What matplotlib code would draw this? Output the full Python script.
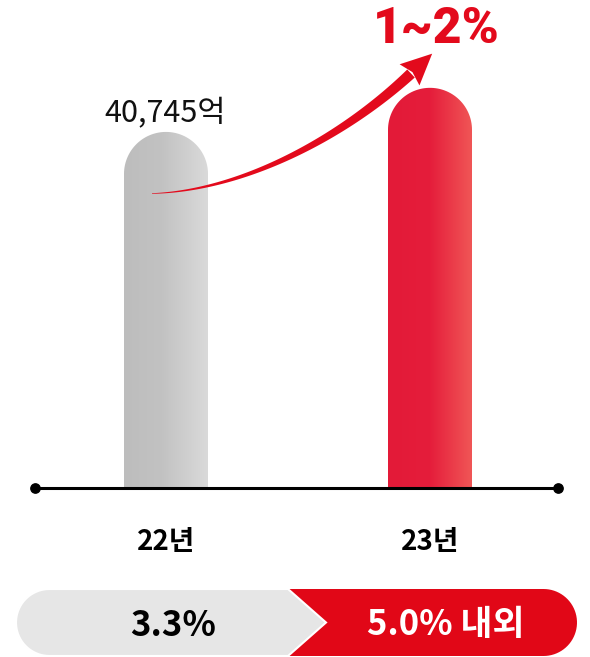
import numpy as np
import matplotlib
matplotlib.use("Agg")
from matplotlib import pyplot as plt
from matplotlib.path import Path
from matplotlib.patches import PathPatch
from matplotlib.colors import LinearSegmentedColormap

# data
years = ["22년", "23년"]
bar_heights = [100, 112.4]  # relative height as drawn (22년 = 100)
base_label = "40,745억"
growth_label = "1~2%"
rates = ["3.3%", "5.0% 내외"]

KR = "Noto Sans CJK KR"
RED = "#e30a1c"

fig = plt.figure(figsize=(5.9, 6.57), dpi=100)

# bars axes (baseline at y=487.5px)
bx = fig.add_axes([0, (657 - 487.5) / 657, 1, 487.5 / 657])
bx.set_xlim(-166 / 264, (590 - 166) / 264)
bx.set_ylim(0, 137.1)
bx.set_axis_off()

p0 = bx.transData.transform((0, 0))
p1 = bx.transData.transform((1, 1))
sx, sy = p1[0] - p0[0], p1[1] - p0[1]

width = 84 / 264
cmaps = [
    LinearSegmentedColormap.from_list("g", [(0, "#bdbdbd"), (0.45, "#c2c2c2"), (1, "#dadada")]),
    LinearSegmentedColormap.from_list("r", [(0, "#e31a38"), (0.5, "#e51d3b"), (1, "#f05656")]),
]
grad = np.linspace(0, 1, 256).reshape(1, -1)
for i, h in enumerate(bar_heights):
    x0, x1 = i - width / 2, i + width / 2
    rx = width / 2
    ry = rx * sx / sy
    ang = np.linspace(np.pi, 0, 60)
    verts = [(x0, 0), (x0, h - ry)]
    verts += list(zip(i + rx * np.cos(ang), h - ry + ry * np.sin(ang)))
    verts += [(x1, h - ry), (x1, 0), (x0, 0)]
    codes = [Path.MOVETO] + [Path.LINETO] * (len(verts) - 2) + [Path.CLOSEPOLY]
    patch = PathPatch(Path(verts, codes), facecolor="none", edgecolor="none")
    bx.add_patch(patch)
    im = bx.imshow(grad, extent=[x0, x1, 0, h], aspect="auto", cmap=cmaps[i])
    im.set_clip_path(patch)
bx.set_xlim(-166 / 264, (590 - 166) / 264)
bx.set_ylim(0, 137.1)

# overlay in pixel coords
ax = fig.add_axes([0, 0, 1, 1])
ax.set_xlim(0, 590)
ax.set_ylim(657, 0)
ax.set_axis_off()

# baseline axis with end dots
ax.plot([35, 558], [487.5, 487.5], color="black", lw=2.2, solid_capstyle="butt")
ax.scatter([35, 558], [487.5, 487.5], s=45, color="black", zorder=3)

# curved tapered arrow
P = np.array([[152, 193.5], [240, 191], [340, 140], [411, 73.5]])
t = np.linspace(0, 1, 120)[:, None]
curve = ((1 - t) ** 3 * P[0] + 3 * (1 - t) ** 2 * t * P[1]
         + 3 * (1 - t) * t ** 2 * P[2] + t ** 3 * P[3])
tang = (3 * (1 - t) ** 2 * (P[1] - P[0]) + 6 * (1 - t) * t * (P[2] - P[1])
        + 3 * t ** 2 * (P[3] - P[2]))
tang = tang / np.linalg.norm(tang, axis=1)[:, None]
nrm = np.column_stack([-tang[:, 1], tang[:, 0]])
hw = 0.3 + 5.2 * t[:, 0] ** 1.1
upper = curve + nrm * hw[:, None]
lower = curve - nrm * hw[:, None]
shaft = np.vstack([upper, lower[::-1]])
ax.fill(shaft[:, 0], shaft[:, 1], color=RED, lw=0)
d = tang[-1]
n = nrm[-1]
B = P[3] - d * 2
tip = B + d * 31
head = np.array([B + n * 14.5, tip, B - n * 14.5, B + d * 4])
ax.fill(head[:, 0], head[:, 1], color=RED, lw=0)

ax.text(436, 43, growth_label, ha="center", va="baseline", fontsize=36,
        color=RED, family=["Roboto", "DejaVu Sans"], fontweight="black")
ax.text(165, 122, base_label, ha="center", va="baseline", fontsize=22,
        color="#111111", family=[KR, "DejaVu Sans"], fontweight="light")

for i, yr in enumerate(years):
    ax.text(166 + 264 * i, 550, yr, ha="center", va="baseline", fontsize=20,
            color="black", family=[KR, "DejaVu Sans"], fontweight="bold")

# bottom banner
top, bot = 589, 656
r = (bot - top) / 2
cy = (top + bot) / 2
a = np.linspace(np.pi / 2, 3 * np.pi / 2, 40)
red_pts = [(288, top), (577 - r, top)]
red_pts += list(zip(577 - r + r * np.cos(a[::-1] - np.pi), cy - r * np.sin(a[::-1] - np.pi)))
red_pts += [(577 - r, bot), (288, bot), (326, cy)]
red_pts = np.array(red_pts)
ax.fill(red_pts[:, 0], red_pts[:, 1], color="#e10717", lw=0)

gray_pts = [(16 + r, top), (288, top), (326, cy), (288, bot), (16 + r, bot)]
gray_pts += list(zip(16 + r + r * np.cos(a[::-1]), cy - r * np.sin(a[::-1])))
gray_pts = np.array(gray_pts)
ax.fill(gray_pts[:, 0], gray_pts[:, 1], facecolor="#e6e6e6", edgecolor="white", lw=1.5)

ax.text(173, 636, rates[0], ha="center", va="baseline", fontsize=25,
        color="black", family=[KR, "DejaVu Sans"], fontweight="bold")
ax.text(446, 635, rates[1], ha="center", va="baseline", fontsize=25,
        color="white", family=[KR, "DejaVu Sans"], fontweight="bold")

fig.savefig("out.png", dpi=100)
